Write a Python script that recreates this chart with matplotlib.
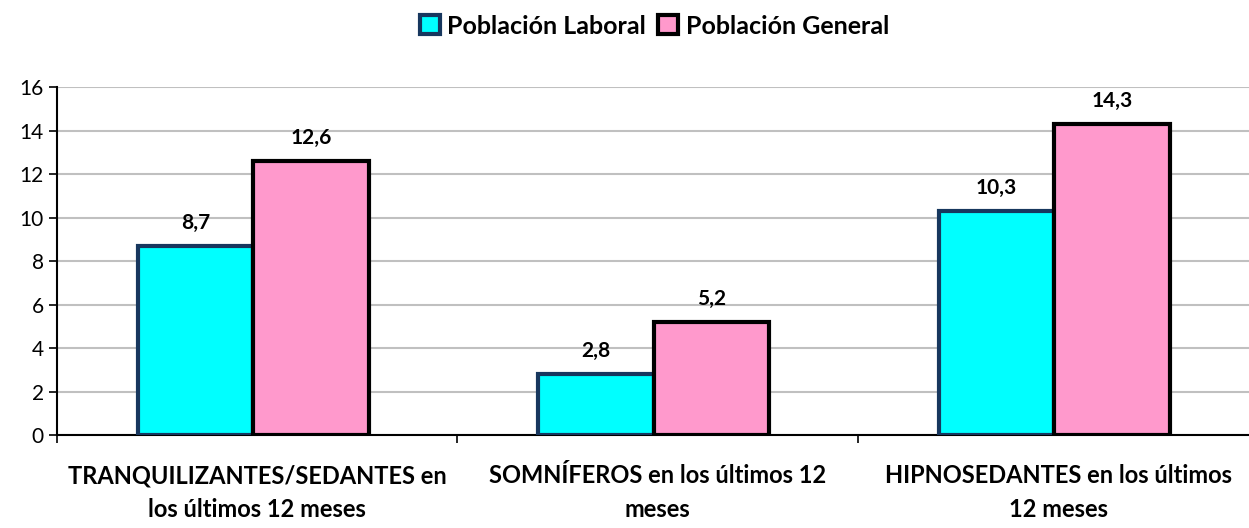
import numpy as np
import matplotlib.pyplot as plt
from matplotlib.patches import Patch

# Datos
categorias = ["TRANQUILIZANTES/SEDANTES en\nlos últimos 12 meses",
              "SOMNÍFEROS en los últimos 12\nmeses",
              "HIPNOSEDANTES en los últimos\n12 meses"]
laboral = [8.7, 2.8, 10.3]
general = [12.6, 5.2, 14.3]
series = ["Población Laboral", "Población General"]

plt.rcParams['font.family'] = ['Lato', 'DejaVu Sans']

fig = plt.figure(figsize=(12.49, 5.28), dpi=100)
ax = fig.add_axes([0.0456, 0.176, 0.962, 0.659])

pos = np.arange(len(categorias))
x = pos - 0.01
w = 0.288

b1 = ax.bar(x - w / 2, laboral, w, color="#00FFFF", edgecolor="#17375E", linewidth=3, zorder=3)
b2 = ax.bar(x + w / 2, general, w, color="#FF99CC", edgecolor="black", linewidth=3, zorder=3)

for bars, vals in [(b1, laboral), (b2, general)]:
    for b, v in zip(bars, vals):
        ax.text(b.get_x() + b.get_width() / 2, v + 0.6, ("%.1f" % v).replace(".", ","),
                ha="center", va="bottom", fontsize=15, fontweight="bold")

ax.set_xlim(-0.5, 2.5)
ax.set_ylim(0, 16)
ax.set_yticks(range(0, 17, 2))
ax.tick_params(axis="y", labelsize=15, length=6, width=1.2, direction="out")
ax.yaxis.grid(True, color="#C0C0C0", linewidth=1.5, zorder=0)

# ticks del eje x en los límites de las categorías
ax.set_xticks([-0.5, 0.5, 1.5, 2.5])
ax.set_xticklabels([])
ax.tick_params(axis="x", length=6, width=1.2, direction="out")
for xi, lab in zip(pos, categorias):
    ax.text(xi, -1.35, lab, ha="center", va="top", fontsize=17, fontweight="bold",
            linespacing=1.55)

for s in ["top", "right"]:
    ax.spines[s].set_visible(False)
ax.spines["left"].set_linewidth(1.5)
ax.spines["bottom"].set_linewidth(1.5)

handles = [Patch(facecolor="#00FFFF", edgecolor="#17375E", linewidth=3),
           Patch(facecolor="#FF99CC", edgecolor="black", linewidth=3)]
fig.legend(handles, series, loc="upper center", bbox_to_anchor=(0.524, 1.015), ncol=2,
           frameon=False, prop={"size": 18, "weight": "bold"},
           handlelength=0.8, handleheight=0.8, handletextpad=0.3, columnspacing=0.5)

plt.savefig("out.png", dpi=100)
